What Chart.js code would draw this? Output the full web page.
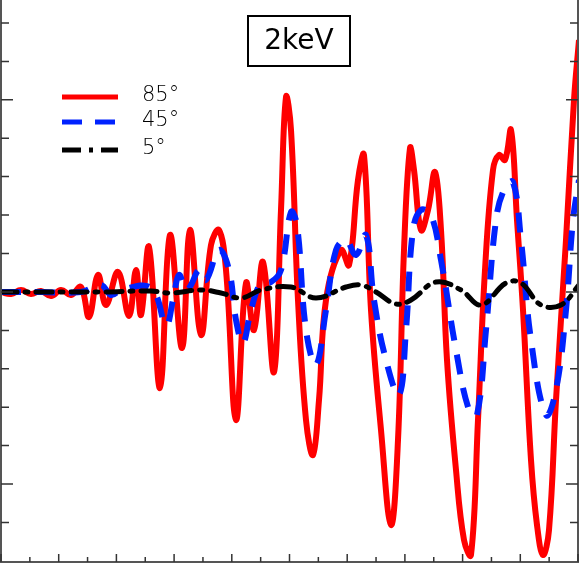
<!DOCTYPE html>
<html><head><meta charset="utf-8">
<script src="https://cdn.jsdelivr.net/npm/chart.js@4"></script>
<style>html,body{margin:0;padding:0;background:#fff}#w{width:580px;height:564px}</style>
</head><body><div id="w"><canvas id="c"></canvas></div>
<script>
const redX=[0,10,20,30,40,50,60,70,80,88,97,105,117,128,135,140,148,159,169,181,189,200,210,218,225,235,245,253,262,273,280,285,290,297,305,312,318,325,340,348,357,363,370,380,390,397,403,409,413,420,427,434,440,446,455,463,470,477,484,492,498,504,510,516,522,530,536,542,548,555,565,573,578];
const redY=[0,-2,2,-2,1,-4,2,-3,5,-25,17,-13,20,-24,22,-23,45,-96,57,-56,62,-43,47,62,22,-128,9,-38,30,-80,82,195,162,-8,-128,-163,-108,-8,42,27,112,137,-18,-138,-233,-148,42,144,122,62,82,120,62,-68,-178,-248,-263,-128,22,122,137,132,162,72,-18,-168,-233,-263,-238,-108,52,192,252];
const blueX=[0,40,80,100,110,120,150,165,172,178,185,190,198,205,218,228,235,242,250,260,270,280,290,296,305,315,325,335,345,355,365,373,385,398,405,412,420,430,440,455,468,476,485,495,503,512,520,530,545,555,565,572,578];
const blueY=[0,0,0,7,-3,2,4,-33,-8,17,2,7,22,12,42,22,-28,-51,-18,9,10,22,80,67,-38,-73,-18,42,52,37,57,-8,-68,-103,-38,62,82,77,32,-58,-118,-123,-38,72,102,110,52,-48,-123,-98,-18,72,112];
const blackX=[0,50,100,150,170,200,220,240,260,290,315,345,360,375,395,410,435,460,480,505,520,540,560,578];
const blackY=[0,0,0,1,-1,2,-1,-6,2,5,-6,5,7,0,-12,-8,10,2,-13,9,9,-13,-13,7];
const xTicks=[0,28.85,57.7,86.55,115.4,144.25,173.1,201.95,230.8,259.65,288.5,317.35,346.2,375.05,403.9,432.75,461.6,490.45,519.3,548.15,577];
const yTicks=[269,230.6,192.2,153.8,115.4,77,38.6,0,-38.4,-76.8,-115.2,-153.6,-192,-230.4];
const legendLabels=['85°','45°','5°'];
const mk=(xs,ys)=>xs.map((x,i)=>({x,y:ys[i]}));
const axesPlugin={id:'ax',afterDatasetsDraw(ch){
 const c=ch.ctx,a=ch.chartArea,xs=ch.scales.x,ys=ch.scales.y;
 c.save();c.strokeStyle='#555';c.lineWidth=2;
 c.beginPath();c.moveTo(a.left,a.top);c.lineTo(a.left,a.bottom);c.lineTo(a.right,a.bottom);c.lineTo(a.right,a.top);c.stroke();
 c.lineWidth=1.5;c.strokeStyle='#333';
 yTicks.forEach((v,i)=>{const p=ys.getPixelForValue(v);const L=(i%5==2)?12:8;
  c.beginPath();c.moveTo(a.left,p);c.lineTo(a.left+L,p);c.moveTo(a.right,p);c.lineTo(a.right-L,p);c.stroke();});
 xTicks.forEach((v,i)=>{const p=xs.getPixelForValue(v);const L=(i%2==0)?8:5;
  c.beginPath();c.moveTo(p,a.bottom);c.lineTo(p,a.bottom-L);c.stroke();});
 c.fillStyle='#fff';c.fillRect(248,16,102,50);c.strokeStyle='#000';c.lineWidth=2;c.strokeRect(248,16,102,50);
 c.fillStyle='#000';c.font='28px "DejaVu Sans"';c.textAlign='center';c.textBaseline='middle';c.fillText('2keV',299,42);
 const st=[{col:'#ff0000',d:[]},{col:'#0022ff',d:[20,13]},{col:'#000',d:[19,8,4,8]}];
 const ly=[97,122,150];
 st.forEach((s,i)=>{c.strokeStyle=s.col;c.lineWidth=5;c.setLineDash(s.d);c.lineCap='butt';
  c.beginPath();c.moveTo(62,ly[i]);c.lineTo(118,ly[i]);c.stroke();});
 c.setLineDash([]);c.font='300 21px "DejaVu Sans"';c.textAlign='left';c.fillStyle='#000';
 legendLabels.forEach((t,i)=>c.fillText(t,142,ly[i]-1));
 c.restore();}};
new Chart(document.getElementById('c'),{type:'line',
 data:{datasets:[
  {data:mk(blackX,blackY),borderColor:'#000',borderWidth:5,borderDash:[16,8,3,8],borderCapStyle:'round',tension:0.4,pointRadius:0},
  {data:mk(blueX,blueY),borderColor:'#0022ff',borderWidth:6,borderDash:[20,14],tension:0.4,pointRadius:0},
  {data:mk(redX,redY),borderColor:'#ff0000',borderWidth:6,tension:0.4,pointRadius:0}]},
 options:{responsive:true,maintainAspectRatio:false,animation:false,layout:{padding:{left:1,right:2,top:0,bottom:2}},
  plugins:{legend:{display:false},tooltip:{enabled:false}},
  scales:{x:{type:'linear',min:0,max:577,display:false},y:{min:-270,max:292,display:false}}},
 plugins:[axesPlugin]});
</script></body></html>
